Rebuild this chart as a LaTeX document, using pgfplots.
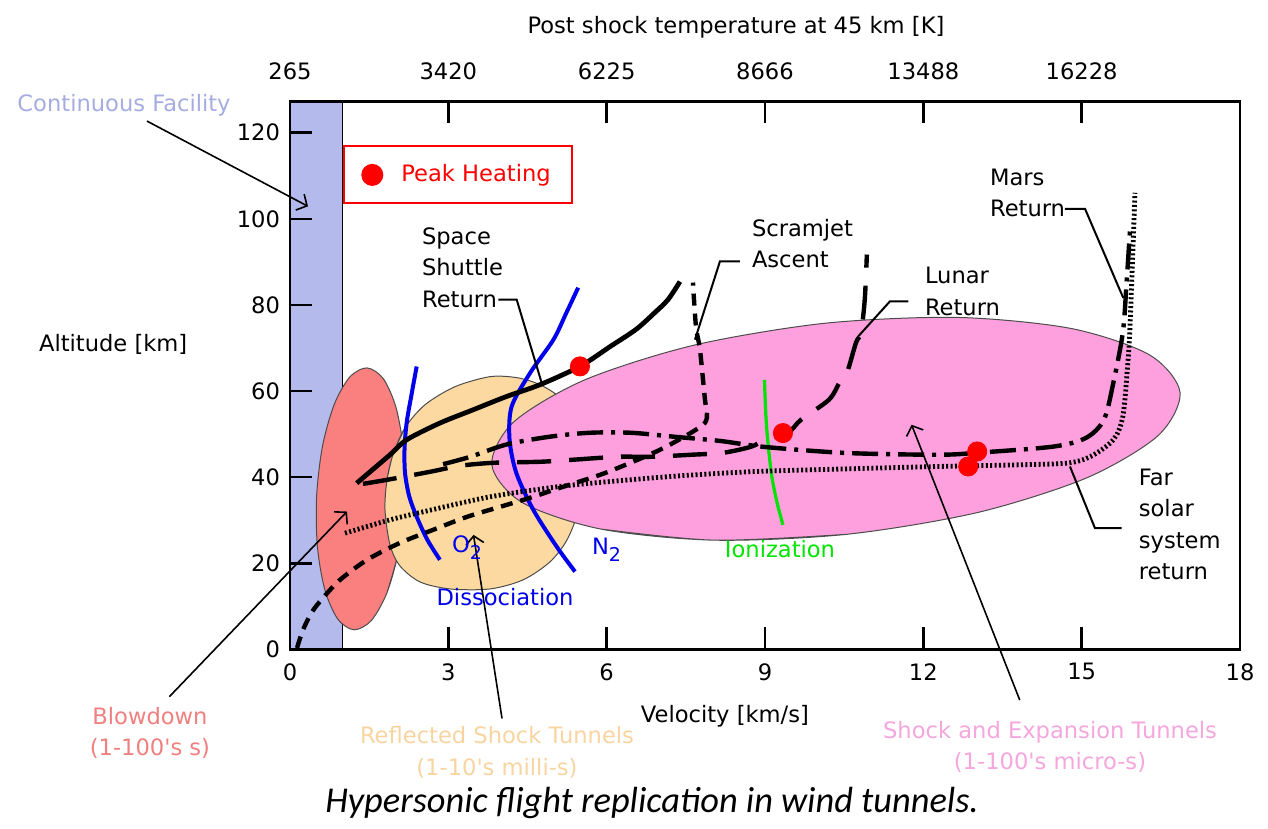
\documentclass[border=0pt]{standalone}
\usepackage{pgfplots}
\pgfplotsset{compat=1.18}
\usepackage{fontspec}
\setmainfont{DejaVu Sans}
\newfontfamily\capfont{Carlito}
\usetikzlibrary{arrows.meta}
\definecolor{lav}{RGB}{180,186,236}
\definecolor{lavtxt}{RGB}{166,172,226}
\definecolor{blow}{RGB}{250,128,128}
\definecolor{blowtxt}{RGB}{240,128,128}
\definecolor{peach}{RGB}{252,217,160}
\definecolor{peachtxt}{RGB}{248,212,160}
\definecolor{pinkf}{RGB}{253,160,221}
\definecolor{pinktxt}{RGB}{245,166,220}
\definecolor{dblue}{RGB}{0,0,235}
\definecolor{igreen}{RGB}{0,228,0}
\newcommand{\lf}{\fontsize{11.3}{15.8}\selectfont}
\newcommand{\subtwo}{\raisebox{-0.55ex}{\fontsize{9.5}{9.5}\selectfont 2}}
\newcommand{\q}{\textquotesingle}
\begin{document}
\begin{tikzpicture}
\begin{axis}[
  scale only axis, width=475pt, height=274pt,
  xmin=0, xmax=18, ymin=0, ymax=127.3,
  clip=false, axis on top,
  axis line style={line width=1.3pt},
  xtick={0,3,...,18}, ytick={0,20,...,120},
  xtick pos=left, ytick pos=left,
  tick align=inside, major tick length=11pt,
  tick style={line width=1.3pt, black},
  ticklabel style={font=\lf},
  /pgf/number format/assume math mode=true,
  xticklabel style={yshift=-3.5pt}, yticklabel style={xshift=-1.5pt},
  legend style={at={(axis cs:1.01,117.05)}, anchor=north west, draw=red,
    line width=1pt, fill=white, font=\lf, inner xsep=8.5pt, inner ysep=7.2pt,
    column sep=7pt},
]
% Continuous facility band
\addplot[fill=lav, draw=black, line width=0.6pt, forget plot]
  coordinates {(0,0) (1,0) (1,127.3) (0,127.3) (0,0)};
% Blowdown region
\addplot[fill=blow, draw=black!70, line width=0.5pt, smooth, tension=0.5, forget plot] coordinates {
 (2.167,34.44) (2.058,22.84) (1.836,13.09) (1.540,6.67) (1.213,4.53) (0.904,7.05)
 (0.661,13.79) (0.520,23.78) (0.504,35.47) (0.614,47.07) (0.836,56.81) (1.131,63.23)
 (1.459,65.37) (1.768,62.86) (2.010,56.12) (2.151,46.13) (2.167,34.44) (2.058,22.84) (1.836,13.09)};
% Reflected shock tunnel region
\addplot[fill=peach, draw=black!70, line width=0.5pt, smooth, tension=0.5, forget plot] coordinates {
 (1.838,39.37) (1.951,45.19) (2.179,51.47) (2.558,56.81) (3.126,61.00) (3.789,63.33)
 (4.301,63.09) (4.737,61.47) (5.116,58.44) (5.400,53.33) (5.532,44.02) (5.457,32.40)
 (5.248,25.42) (4.926,20.30) (4.415,16.12) (3.789,14.02) (3.031,14.02) (2.463,15.65)
 (2.084,19.37) (1.895,24.26) (1.800,32.40) (1.838,39.37) (1.951,45.19) (2.179,51.47)};
% Shock and expansion tunnel region
\addplot[fill=pinkf, draw=black!70, line width=0.5pt, smooth, tension=0.5, forget plot] coordinates {
 (10.555,26.72) (8.043,25.35) (5.883,27.95) (4.401,34.09) (3.825,42.81) (4.242,52.84)
 (5.587,62.60) (7.656,70.65) (10.135,75.74) (12.647,77.09) (14.807,74.51) (16.288,68.37)
 (16.864,59.65) (16.447,49.63) (15.102,39.86) (13.033,31.79) (10.555,26.72) (8.043,25.35) (5.883,27.95)};
% O2 dissociation
\addplot[dblue, line width=2pt, smooth, forget plot] coordinates {
 (2.40,65.7) (2.30,59.0) (2.21,52.6) (2.17,46.5) (2.18,40.9) (2.26,35.5) (2.40,30.8) (2.60,25.5) (2.84,20.8)};
% N2 dissociation
\addplot[dblue, line width=2pt, smooth, forget plot] coordinates {
 (5.46,84.0) (5.23,78.0) (4.99,71.9) (4.55,64.2) (4.20,56.4) (4.16,48.7) (4.29,40.9) (4.61,32.4) (5.05,23.9) (5.40,18.05)};
% Ionization
\addplot[igreen, line width=1.6pt, smooth, forget plot] coordinates {
 (8.99,62.6) (9.01,56.0) (9.04,50.2) (9.12,40.9) (9.22,34.5) (9.34,28.9)};
% Far solar system return (dotted)
\addplot[black, line width=2.4pt, dash pattern=on 1pt off 1.2pt, smooth, forget plot] coordinates {
 (1.042,26.98) (1.895,30.07) (2.520,31.93) (3.789,35.42) (5.059,37.74) (6.006,38.91)
 (7.389,40.30) (8.820,41.30) (10.61,41.93) (12.30,42.47) (13.83,42.86) (14.73,43.26)
 (15.17,44.79) (15.60,48.67) (15.78,54.09) (15.87,65.72) (15.91,73.49) (15.95,85.88) (16.01,106.05)};
% Scramjet ascent (short dashes)
\addplot[black, line width=2.2pt, dash pattern=on 6pt off 4pt, smooth, forget plot] coordinates {
 (0.133,0.30) (0.246,4.49) (0.417,8.67) (0.625,11.93) (0.947,16.12) (1.459,20.77)
 (2.084,24.72) (2.709,27.74) (3.354,30.77) (3.979,33.09) (4.547,35.19) (5.172,37.74)
 (5.930,40.77) (6.631,44.26) (7.086,46.81) (7.598,50.30) (7.863,52.63) (7.901,54.95)
 (7.863,57.98) (7.768,69.60) (7.692,74.95) (7.635,85.19)};
% Lunar return (long dashes)
\addplot[black, line width=2.2pt, dash pattern=on 17pt off 9pt, smooth, forget plot] coordinates {
 (1.383,38.44) (1.838,39.37) (2.652,41.23) (3.221,42.63) (3.865,43.33) (4.737,43.56)
 (5.343,44.02) (6.214,44.72) (6.821,44.72) (7.598,45.19) (8.204,45.65) (8.734,47.05)
 (9.000,48.67) (9.435,50.30) (9.682,53.33) (10.212,57.98) (10.42,62.16) (10.553,64.26)
 (10.724,71.23) (10.818,73.56) (10.89,81.23) (10.93,91.70)};
% Mars return (dash-dot)
\addplot[black, line width=2.2pt, dash pattern=on 13pt off 4pt on 2pt off 4pt, smooth, forget plot] coordinates {
 (2.90,43.0) (3.41,44.7) (4.11,47.6) (4.93,49.4) (5.68,50.3) (6.46,50.3) (7.26,49.4)
 (8.15,48.4) (9.00,47.0) (10.55,45.6) (12.30,45.2) (13.07,45.7) (14.47,47.1) (15.08,49.1)
 (15.42,53.3) (15.60,61.9) (15.78,73.6) (15.85,85.0) (15.92,98.2)};
% Space shuttle return (solid)
\addplot[black, line width=2.4pt, smooth, forget plot] coordinates {
 (1.264,38.60) (1.895,45.19) (2.211,48.67) (2.842,52.56) (3.473,55.65) (4.106,58.74)
 (4.737,61.47) (5.494,65.72) (6.063,70.30) (6.555,74.3) (6.906,78.14) (7.162,81.23) (7.389,85.42)};
% Peak heating points
\addplot[only marks, mark=*, mark size=4.8pt, red, mark options={draw=red, fill=red},
  legend image code/.code={\fill[red] (0pt,0pt) circle (5pt);}] coordinates {
 (5.494,65.72) (9.34,50.23) (13.02,45.95) (12.85,42.47)};
\addlegendentry{\textcolor{red}{Peak Heating}}

% leader lines
\draw[line width=1pt] (axis cs:3.947,81.23) -- (axis cs:4.295,81.23) -- (axis cs:4.769,61.86);
\draw[line width=1pt] (axis cs:8.526,90.14) -- (axis cs:8.147,90.14) -- (axis cs:7.673,71.93);
\draw[line width=1pt] (axis cs:11.715,80.84) -- (axis cs:11.368,80.84) -- (axis cs:10.767,72.70);
\draw[line width=1pt] (axis cs:14.684,102.33) -- (axis cs:15.063,102.33) -- (axis cs:15.788,81.63);
\draw[line width=1pt] (axis cs:15.758,28.14) -- (axis cs:15.252,28.14) -- (axis cs:14.778,42.47);

% arrows
\draw[line width=0.8pt, -{Straight Barb[length=4pt,width=9pt]}] (axis cs:-2.709,122.7) -- (axis cs:0.341,102.9);
\draw[line width=0.8pt, -{Straight Barb[length=4pt,width=9pt]}] (axis cs:-2.285,-11.0) -- (axis cs:1.080,32.0);
\draw[line width=0.8pt, -{Straight Barb[length=4pt,width=9pt]}] (axis cs:4.017,-16.05) -- (axis cs:3.477,26.58);
\draw[line width=0.8pt, -{Straight Barb[length=4pt,width=9pt]}] (axis cs:13.827,-11.8) -- (axis cs:11.777,52.16);

% labels inside
\node[font=\lf, anchor=west, align=left] at (axis cs:2.368,88.67) {Space\\Shuttle\\Return};
\node[font=\lf, anchor=west, align=left] at (axis cs:8.62,94.26) {Scramjet\\Ascent};
\node[font=\lf, anchor=west, align=left] at (axis cs:11.898,83.2) {Lunar\\Return};
\node[font=\lf, anchor=west, align=left] at (axis cs:13.13,106.0) {Mars\\Return};
\node[font=\lf, anchor=west, align=left] at (axis cs:15.95,29.0) {Far\\solar\\system\\return};
\node[font=\lf, text=dblue, anchor=west] at (axis cs:2.937,23.56) {O\subtwo};
\node[font=\lf, text=dblue, anchor=west] at (axis cs:5.589,23.1) {N\subtwo};
\node[font=\lf, text=dblue] at (axis cs:4.074,12.16) {Dissociation};
\node[font=\lf, text=igreen] at (axis cs:9.284,23.33) {Ionization};

% labels outside
\node[font=\lf, text=lavtxt] at (axis cs:-3.145,126.35) {Continuous Facility};
\node[font=\lf, text=blowtxt, align=center] at (axis cs:-2.653,-19.4) {Blowdown\\(1-100\q s s)};
\node[font=\lf, text=peachtxt, align=center] at (axis cs:3.922,-24.0) {Reflected Shock Tunnels\\(1-10\q s milli-s)};
\node[font=\lf, text=pinktxt, align=center] at (axis cs:14.40,-22.7) {Shock and Expansion Tunnels\\(1-100\q s micro-s)};
\node[font=\lf] at (axis cs:8.24,-15.5) {Velocity [km/s]};
\node[font=\lf] at (axis cs:-3.35,70.8) {Altitude [km]};
\node[font=\lf] at (axis cs:8.45,144.5) {Post shock temperature at 45 km [K]};
\node[font=\capfont\itshape\fontsize{18.2}{20}\selectfont] at (axis cs:6.86,-35.7) {Hypersonic flight replication in wind tunnels.};
\end{axis}
\begin{axis}[
  scale only axis, width=475pt, height=274pt,
  xmin=0, xmax=18, ymin=0, ymax=127.3,
  axis x line*=top, hide y axis,
  axis line style={line width=1.3pt},
  xtick={0,3,...,15}, xticklabels={265,3420,6225,8666,13488,16228},
  tick align=inside, major tick length=11pt,
  tick style={line width=1.3pt, black},
  xticklabel style={font=\lf, yshift=7pt},
]
\end{axis}
\pgfresetboundingbox
\path[use as bounding box] (-145pt,-89.85pt) rectangle (489pt,324.65pt);
\end{tikzpicture}
\end{document}
